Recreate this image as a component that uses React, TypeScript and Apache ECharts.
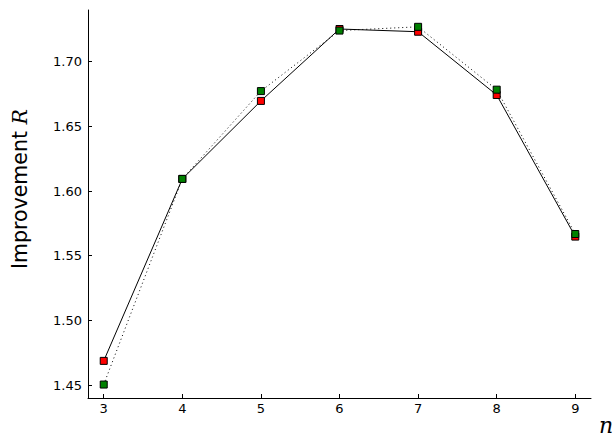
import React, { useEffect, useRef } from "react";
import * as echarts from "echarts";

const nValues = [3, 4, 5, 6, 7, 8, 9];
const redValues = [1.4687, 1.6094, 1.6697, 1.7253, 1.7232, 1.6743, 1.5648];
const greenValues = [1.4504, 1.6094, 1.6773, 1.7241, 1.727, 1.6784, 1.5668];
const xTicks = [3, 4, 5, 6, 7, 8, 9];
const yTicks = [1.45, 1.5, 1.55, 1.6, 1.65, 1.7];

export default function App() {
  const ref = useRef<HTMLDivElement>(null);
  useEffect(() => {
    if (!ref.current) return;
    const chart = echarts.init(ref.current, undefined, { renderer: "svg" });
    const font = "DejaVu Sans";
    chart.setOption({
      animation: false,
      backgroundColor: "#ffffff",
      grid: { left: 88, right: 24, top: 10, bottom: 38, containLabel: false },
      xAxis: {
        type: "value",
        min: 2.8,
        max: 9.2,
        splitLine: { show: false },
        axisLine: { show: true, lineStyle: { color: "#000", width: 1 } },
        axisTick: { show: true, inside: true, length: 4, customValues: xTicks, lineStyle: { color: "#000" } },
        axisLabel: {
          customValues: xTicks,
          color: "#000",
          fontFamily: font,
          fontSize: 13,
          margin: 4,
        },
      },
      yAxis: {
        type: "value",
        min: 1.44,
        max: 1.74,
        splitLine: { show: false },
        axisLine: { show: true, lineStyle: { color: "#000", width: 1 } },
        axisTick: { show: true, inside: true, length: 4, customValues: yTicks, lineStyle: { color: "#000" } },
        axisLabel: {
          customValues: yTicks,
          color: "#000",
          fontFamily: font,
          fontSize: 13,
          margin: 6,
          formatter: (v: number) => v.toFixed(2),
        },
      },
      graphic: [
        {
          type: "text",
          x: 20,
          y: 189,
          rotation: Math.PI / 2,
          style: {
            text: "{a|Improvement }{b|R}",
            align: "center",
            verticalAlign: "middle",
            rich: {
              a: { fontFamily: font, fontSize: 20.5, fill: "#000" },
              b: { fontFamily: "DejaVu Serif", fontStyle: "italic", fontSize: 20.5, fill: "#000" },
            },
          },
        },
        {
          type: "text",
          left: 599,
          top: 414,
          style: {
            text: "n",
            fontFamily: "DejaVu Serif",
            fontStyle: "italic",
            fontSize: 22,
            fill: "#000",
          },
        },
      ],
      series: [
        {
          type: "line",
          data: nValues.map((n, i) => [n, redValues[i]]),
          symbol: "rect",
          symbolSize: 7,
          lineStyle: { color: "#000", width: 1, type: "solid" },
          itemStyle: { color: "#ff0000", borderColor: "#000", borderWidth: 1 },
          z: 2,
        },
        {
          type: "line",
          data: nValues.map((n, i) => [n, greenValues[i]]),
          symbol: "rect",
          symbolSize: 7,
          lineStyle: { color: "#000", width: 1, type: [1, 3] },
          itemStyle: { color: "#008000", borderColor: "#000", borderWidth: 1 },
          z: 3,
        },
      ],
    });
    return () => chart.dispose();
  }, []);
  return (
    <div
      ref={ref}
      style={{ position: "fixed", left: 0, top: 0, width: 615, height: 436 }}
    />
  );
}
